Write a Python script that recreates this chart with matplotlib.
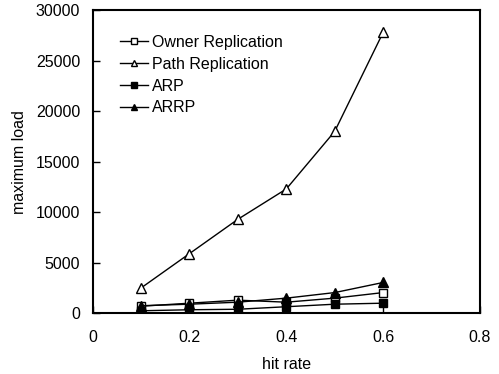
import matplotlib.pyplot as plt

plt.rcParams['font.family'] = ['Liberation Sans', 'DejaVu Sans']

hit_rate = [0.1, 0.2, 0.3, 0.4, 0.5, 0.6]
owner = [700, 1000, 1300, 1100, 1500, 2050]
path = [2500, 5900, 9300, 12300, 18000, 27800]
arp = [250, 350, 400, 650, 900, 1000]
arrp = [750, 900, 1100, 1500, 2050, 3050]

fig = plt.figure(figsize=(4.99, 3.74), dpi=100)
ax = fig.add_axes([0.1854, 0.1623, 0.7766, 0.8107])

ax.plot(hit_rate, owner, 'k-', marker='s', mfc='white', mec='black', ms=6, lw=1, label='Owner Replication')
ax.plot(hit_rate, path, 'k-', marker='^', mfc='white', mec='black', ms=6.5, lw=1, label='Path Replication')
ax.plot(hit_rate, arp, 'k-', marker='s', mfc='black', mec='black', ms=6, lw=1, label='ARP')
ax.plot(hit_rate, arrp, 'k-', marker='^', mfc='black', mec='black', ms=6.5, lw=1, label='ARRP')

ax.set_xlim(0, 0.8)
ax.set_ylim(0, 30000)
ax.set_xticks([0, 0.2, 0.4, 0.6, 0.8])
ax.set_xticklabels(['0', '0.2', '0.4', '0.6', '0.8'])
ax.set_yticks(range(0, 30001, 5000))
ax.tick_params(direction='in', length=5, width=1, labelsize=11.5)
ax.tick_params(axis='x', pad=12)
ax.tick_params(axis='y', pad=9)
for s in ax.spines.values():
    s.set_linewidth(1.5)

ax.set_xlabel('hit rate', fontsize=11.5, labelpad=9)
ax.set_ylabel('maximum load', fontsize=11.5, labelpad=6)

ax.legend(loc='upper left', bbox_to_anchor=(0.035, 0.965), frameon=False, fontsize=11.5,
          handlelength=1.7, labelspacing=0.42, handletextpad=0.3, markerscale=0.75)

fig.savefig('out.png', dpi=100)
